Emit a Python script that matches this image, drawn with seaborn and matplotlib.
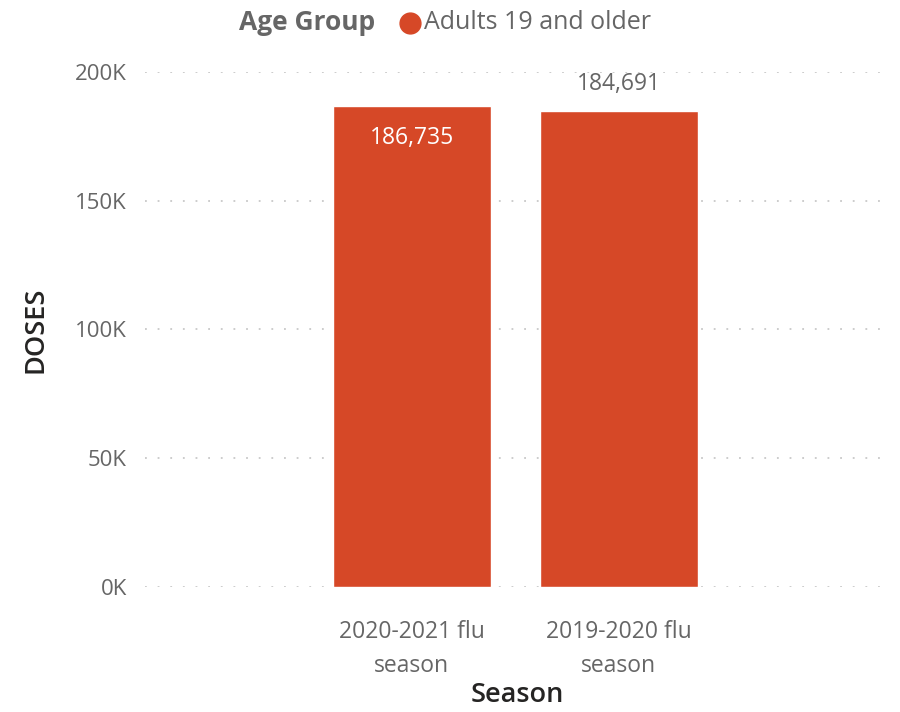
import pandas as pd
import matplotlib.pyplot as plt
import seaborn as sns
from matplotlib.ticker import FuncFormatter

seasons = ['2020-2021 flu\nseason', '2019-2020 flu\nseason']
doses = [186735, 184691]
age_group = 'Adults 19 and older'

bar_color = '#D64827'
text_gray = '#666666'

data = pd.DataFrame({'Season': seasons, 'Doses': doses})

sns.set_style('white')
plt.rcParams['font.family'] = ['Open Sans', 'DejaVu Sans']

fig = plt.figure(figsize=(9, 7.12), dpi=100)
ax = fig.add_axes([0.161, 0.1756, 0.828, 0.7233])

sns.barplot(data=data, x='Season', y='Doses', color=bar_color, width=0.763,
            saturation=1, ax=ax, zorder=3)

ax.set_xlim(-1.29, 2.31)
ax.set_ylim(0, 200000)
ax.set_yticks([0, 50000, 100000, 150000, 200000])
ax.yaxis.set_major_formatter(FuncFormatter(lambda v, p: f'{int(v / 1000)}K'))
ax.grid(axis='y', color='#C8C8C8', linestyle=(0, (1, 6)), linewidth=1.3, zorder=0)
ax.grid(axis='x', visible=False)
for s in ax.spines.values():
    s.set_visible(False)
ax.tick_params(axis='y', length=0, labelsize=16, labelcolor=text_gray, pad=13)
ax.tick_params(axis='x', length=0, labelsize=16.5, labelcolor=text_gray, pad=24)
for t in ax.get_xticklabels():
    t.set_linespacing(1.55)

ax.set_ylabel('DOSES', fontsize=19.5, color='#252423', fontweight='semibold', labelpad=18)
ax.set_xlabel('Season', fontsize=19.5, color='#252423', fontweight='semibold', labelpad=2)

# data labels: inside if near the top, otherwise above
for i, v in enumerate(doses):
    if v == max(doses):
        ax.text(i, v - 12500, f'{v:,}', ha='center', va='center', color='white', fontsize=16.5)
    else:
        ax.text(i, v + 10500, f'{v:,}', ha='center', va='center', color=text_gray, fontsize=16.5)

# legend at top
fig.text(0.266, 0.968, 'Age Group', fontsize=19, fontweight='bold', color=text_gray, va='center')
fig.lines.append(plt.Line2D([0.456], [0.968], marker='o', markersize=15, color=bar_color,
                            transform=fig.transFigure))
fig.text(0.471, 0.968, age_group, fontsize=18, color=text_gray, va='center')

fig.savefig('out.png', dpi=100)
